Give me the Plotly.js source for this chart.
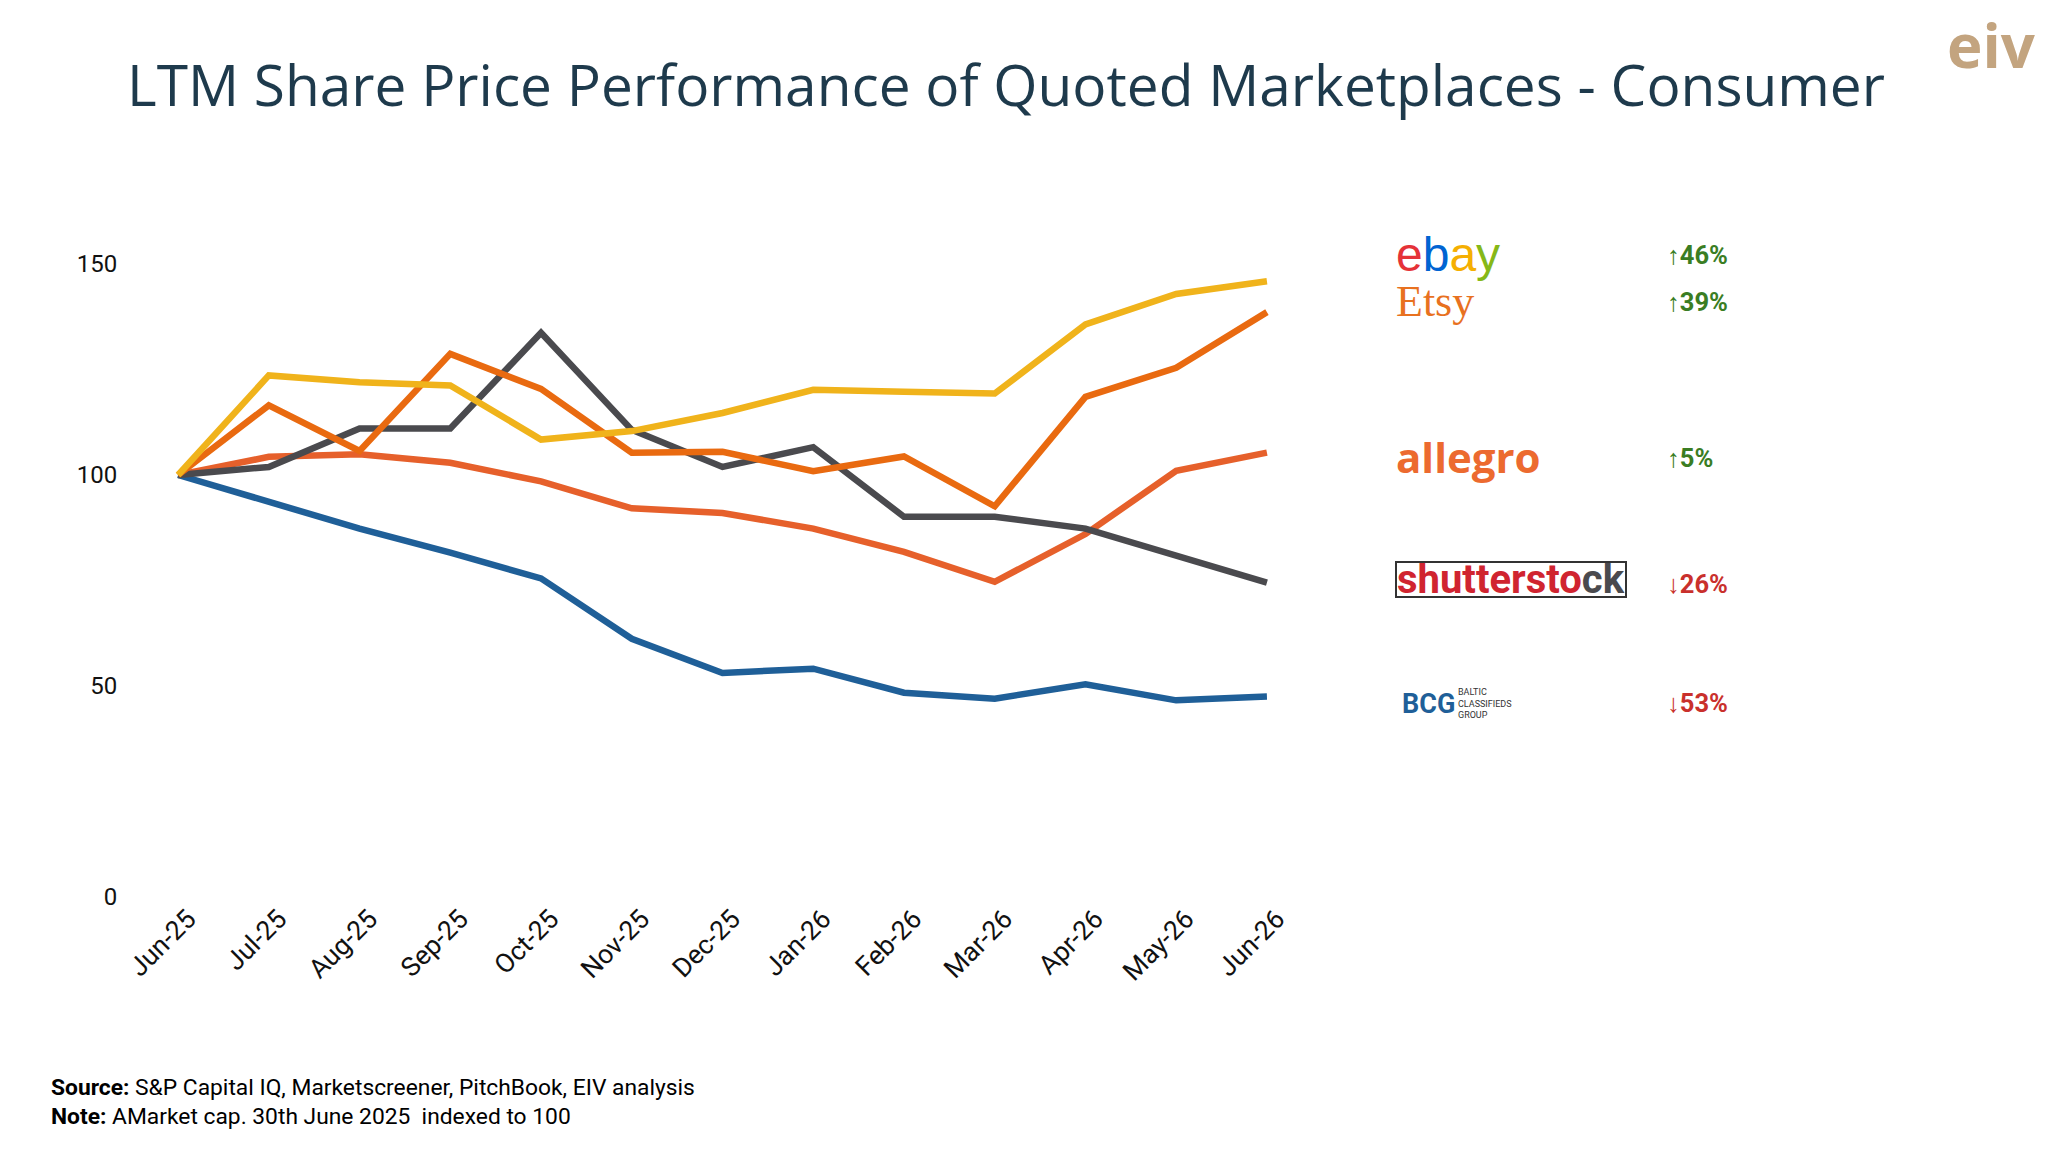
<!DOCTYPE html>
<html>
<head>
<meta charset="utf-8">
<script src="https://cdn.plot.ly/plotly-3.0.1.min.js"></script>
<style>
html,body{margin:0;padding:0;background:#fff;}
#chart{width:2048px;height:1152px;}
</style>
</head>
<body>
<div id="chart"></div>
<script>
var months = ["Jun-25","Jul-25","Aug-25","Sep-25","Oct-25","Nov-25","Dec-25","Jan-26","Feb-26","Mar-26","Apr-26","May-26","Jun-26"];
var ebay = [100,123.6,122.0,121.2,108.4,110.4,114.7,120.2,119.7,119.3,135.7,142.9,145.9];
var etsy = [100,116.5,105.7,128.7,120.4,105.3,105.5,100.9,104.4,92.6,118.5,125.4,138.6];
var allegro = [100,104.3,104.9,102.9,98.5,92.1,91.0,87.3,81.8,74.7,86.0,101.0,105.3];
var shutterstock = [100,101.9,111.0,111.0,133.7,110.7,101.9,106.6,90.1,90.1,87.3,81.0,74.5];
var bcg = [100,93.6,87.3,81.6,75.5,61.2,53.1,54.1,48.4,47.0,50.4,46.6,47.5];
var yTicks = [0,50,100,150];
var arrows = ["\u2191","\u2191","\u2191","\u2193","\u2193"];
var changes = ["46%","39%","5%","26%","53%"];

var W = 2048, H = 1152;
var L = 168.9, R = W - 1276.1, T = 263.5, B = H - 897;
var PW = W - L - R, PH = H - T - B;
function px(x){ return (x - L) / PW; }
function py(y){ return 1 - (y - T) / PH; }

function line(y, color, name){
  return {x: months, y: y, type: 'scatter', mode: 'lines', name: name,
    line: {color: color, width: 6.5}, hoverinfo: 'skip'};
}
var traces = [
  line(bcg, '#1F5F98', 'BCG'),
  line(allegro, '#E6602B', 'Allegro'),
  line(shutterstock, '#4A4A4E', 'Shutterstock'),
  line(etsy, '#E96A10', 'Etsy'),
  line(ebay, '#F0B31B', 'eBay')
];

var green = '#3A7D23', red = '#C9302C';
var pctY = [254, 302, 458, 584, 703];
var pctCol = [green, green, green, red, red];
var ann = [];
for (var i = 0; i < changes.length; i++) {
  ann.push({xref:'paper', yref:'paper', x: px(1665), y: py(pctY[i]), xanchor:'left', yanchor:'middle',
    text: arrows[i] + '<b>' + changes[i] + '</b>', showarrow:false,
    font:{family:'Roboto', size:25.5, color:pctCol[i]}});
}
// logos as text
ann.push({xref:'paper', yref:'paper', x: px(1394), y: py(254), xanchor:'left', yanchor:'middle', showarrow:false,
  text:'<span style="color:#E53238">e</span><span style="color:#0064D2">b</span><span style="color:#F5AF02">a</span><span style="color:#86B817">y</span>',
  font:{family:'Liberation Sans', size:48}});
ann.push({xref:'paper', yref:'paper', x: px(1394), y: py(301), xanchor:'left', yanchor:'middle', showarrow:false,
  text:'Etsy', font:{family:'Liberation Serif', size:44, color:'#E8711F'}});
ann.push({xref:'paper', yref:'paper', x: px(1394), y: py(456), xanchor:'left', yanchor:'middle', showarrow:false,
  text:'<b>allegro</b>', font:{family:'Open Sans', size:42, color:'#EC6A2F'}});
ann.push({xref:'paper', yref:'paper', x: px(1395), y: py(579), xanchor:'left', yanchor:'middle', showarrow:false,
  text:'<b><span style="color:#D02430">shutterst</span><span style="color:#D02430">o</span><span style="color:#4A4A4E">ck</span></b>',
  font:{family:'Roboto', size:40}, bordercolor:'#333333', borderwidth:2, borderpad:0, height:33});
ann.push({xref:'paper', yref:'paper', x: px(1400), y: py(704), xanchor:'left', yanchor:'middle', showarrow:false,
  text:'<b>BCG</b>', font:{family:'Roboto', size:27, color:'#1F5F98'}});
ann.push({xref:'paper', yref:'paper', x: px(1456), y: py(703), xanchor:'left', yanchor:'middle', showarrow:false, align:'left',
  text:'BALTIC<br>CLASSIFIEDS<br>GROUP', font:{family:'Roboto', size:9, color:'#333333'}});
// eiv logo
ann.push({xref:'paper', yref:'paper', x: px(2038), y: py(44), xanchor:'right', yanchor:'middle', showarrow:false,
  text:'<b>eiv</b>', font:{family:'Open Sans', size:60, color:'#C3A47F'}});
// footer
ann.push({xref:'paper', yref:'paper', x: px(49), y: py(1088), xanchor:'left', yanchor:'middle', showarrow:false,
  text:'<b>Source:</b> S&amp;P Capital IQ, Marketscreener, PitchBook, EIV analysis',
  font:{family:'Roboto', size:22.8, color:'#000000'}});
ann.push({xref:'paper', yref:'paper', x: px(49), y: py(1117), xanchor:'left', yanchor:'middle', showarrow:false,
  text:'<b>Note:</b> AMarket cap. 30th June 2025 \u00a0indexed to 100',
  font:{family:'Roboto', size:22.8, color:'#000000'}});

var layout = {
  width: W, height: H,
  margin: {l: L, r: R, t: T, b: B, autoexpand: false},
  paper_bgcolor: '#ffffff', plot_bgcolor: '#ffffff',
  showlegend: false,
  title: {text: 'LTM Share Price Performance of Quoted Marketplaces - Consumer',
    font: {family: 'Open Sans', size: 56.8, color: '#1E3A4C'},
    x: 1006 / W, xanchor: 'center', y: 1 - 86 / H, yanchor: 'middle'},
  xaxis: {type: 'category', categoryorder: 'array', categoryarray: months,
    range: [-0.1, 12.1], showgrid: false, zeroline: false, showline: false,
    tickangle: -45, ticks: '', ticklabelshift: 10,
    tickfont: {family: 'Roboto', size: 26.5, color: '#111111'}, automargin: false},
  yaxis: {range: [0, 150], tickvals: yTicks, ticktext: yTicks.map(String),
    showgrid: false, zeroline: false, showline: false,
    ticks: 'outside', ticklen: 46, tickcolor: 'rgba(0,0,0,0)',
    tickfont: {family: 'Roboto', size: 24, color: '#111111'}, automargin: false},
  annotations: ann
};
Plotly.newPlot('chart', traces, layout, {staticPlot: true, displayModeBar: false});
</script>
</body>
</html>
